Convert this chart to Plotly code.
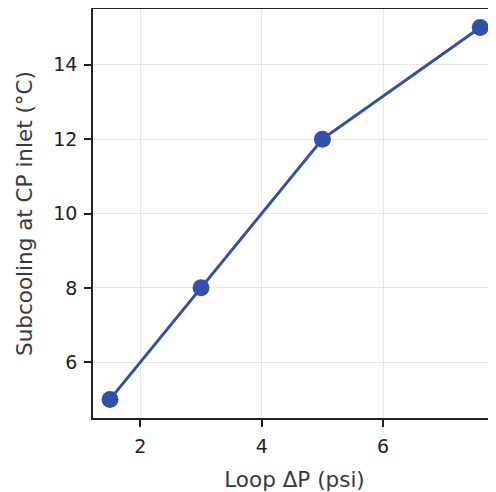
import plotly.graph_objects as go

loop_dp_psi = [1.5, 3.0, 5.0, 7.6]
subcooling_c = [5.0, 8.0, 12.0, 15.0]
x_ticks = [2, 4, 6]
y_ticks = [6, 8, 10, 12, 14]

blue = "#3350A8"
font = "DejaVu Sans, sans-serif"

fig = go.Figure()
fig.add_trace(go.Scatter(
    x=loop_dp_psi, y=subcooling_c, mode="lines+markers",
    line=dict(color=blue, width=3),
    marker=dict(color=blue, size=17),
    showlegend=False, cliponaxis=False,
))

# page body has an 8px margin, so the figure is sized to the remaining area
fig.update_layout(
    width=488, height=484,
    margin=dict(l=85, r=0, t=1, b=74),
    paper_bgcolor="white", plot_bgcolor="white",
    font=dict(family=font, size=19, color="#333333"),
)
fig.update_xaxes(
    range=[1.22, 7.86], tickvals=x_ticks, ticktext=[str(v) for v in x_ticks],
    showline=True, linecolor="#222222", linewidth=1.5, mirror=True,
    ticks="outside", ticklen=7, tickwidth=1.5, tickcolor="#222222",
    ticklabelstandoff=3,
    showgrid=True, gridcolor="rgba(0,0,0,0.09)", gridwidth=1,
    zeroline=False,
    title=dict(text="Loop ΔP (psi)", font=dict(size=21.5, color="#3a3a3a"), standoff=17),
    tickfont=dict(size=19, color="#222222"),
)
fig.update_yaxes(
    range=[4.5, 15.5], tickvals=y_ticks, ticktext=[str(v) for v in y_ticks],
    showline=True, linecolor="#222222", linewidth=1.5, mirror=False,
    ticks="outside", ticklen=7, tickwidth=1.5, tickcolor="#222222",
    ticklabelstandoff=3,
    showgrid=True, gridcolor="rgba(0,0,0,0.09)", gridwidth=1,
    zeroline=False,
    title=dict(text="Subcooling at CP inlet (°C)", font=dict(size=21.5, color="#3a3a3a"), standoff=15),
    tickfont=dict(size=19, color="#222222"),
)

fig.write_html("out.html")
